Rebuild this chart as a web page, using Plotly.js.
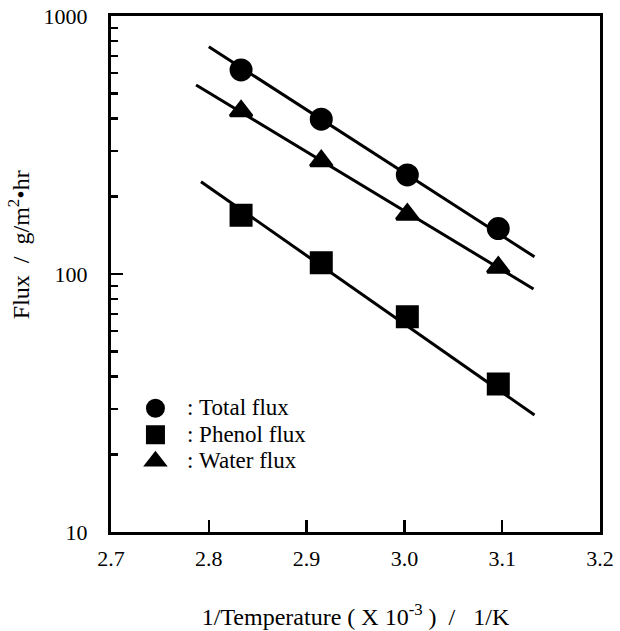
<!DOCTYPE html>
<html>
<head>
<meta charset="utf-8">
<script src="https://cdn.plot.ly/plotly-3.0.1.min.js"></script>
<style>html,body{margin:0;padding:0;background:#fff;}#chart{width:620px;height:631px;}</style>
</head>
<body>
<div id="chart"></div>
<script>
// 1/T (x 10^-3, 1/K)
const invTemp = [2.833, 2.915, 3.003, 3.096];
// Flux values (g/m2 hr)
const totalFlux  = [618, 398, 242, 150];
const phenolFlux = [169, 110.6, 68.3, 37.5];
const waterFlux  = [428, 274, 170, 106];
// fitted lines (end points)
const totalLineX  = [2.800, 3.133];
const totalLineY  = [760, 116.6];
const waterLineX  = [2.787, 3.132];
const waterLineY  = [540, 87.5];
const phenolLineX = [2.792, 3.133];
const phenolLineY = [228, 28.4];
// ticks
const xTickVals = [2.7, 2.8, 2.9, 3.0, 3.1, 3.2];
const xTickText = ["2.7", "2.8", "2.9", "3.0", "3.1", "3.2"];
const yTickVals = [10, 100, 1000];
const yTickText = ["10", "100", "1000"];
const yMinorVals = [20, 30, 40, 50, 60, 70, 80, 90, 200, 300, 400, 500, 600, 700, 800, 900];
const seriesLabels = ["Total flux", "Phenol flux", "Water flux"];
const xTitle = "1/Temperature ( X 10<sup>-3</sup> )\u00a0\u00a0/\u00a0\u00a0\u00a01/K";
const yTitle = "Flux\u00a0\u00a0/\u00a0\u00a0g/m<sup>2</sup>\u2022hr";

const FONT = "'Liberation Serif', 'Times New Roman', Times, serif";
const lineStyle = {color: "#000", width: 3};
const legendName = (s) => '<span style="font-size:23px">\u00a0\u00a0:\u00a0' + s + '</span>';

const traces = [
  {x: totalLineX, y: totalLineY, mode: "lines", line: lineStyle, showlegend: false, hoverinfo: "skip"},
  {x: waterLineX, y: waterLineY, mode: "lines", line: lineStyle, showlegend: false, hoverinfo: "skip"},
  {x: phenolLineX, y: phenolLineY, mode: "lines", line: lineStyle, showlegend: false, hoverinfo: "skip"},
  {x: invTemp, y: totalFlux, mode: "markers", name: legendName(seriesLabels[0]), legendgroup: "a",
   marker: {symbol: "circle", size: 20, color: "#000", line: {color: "#000", width: 3}}},
  {x: invTemp, y: phenolFlux, mode: "markers", name: legendName(seriesLabels[1]), legendgroup: "b",
   marker: {symbol: "square", size: 20, color: "#000", line: {color: "#000", width: 3}}},
  {x: invTemp, y: waterFlux, mode: "markers", name: legendName(seriesLabels[2]), legendgroup: "c",
   marker: {symbol: "triangle-up", size: 19, color: "#000", line: {color: "#000", width: 3}}}
];

const layout = {
  width: 620, height: 631,
  margin: {l: 111, r: 20, t: 16, b: 99},
  paper_bgcolor: "#fff", plot_bgcolor: "#fff",
  font: {family: FONT, color: "#000", size: 22},
  showlegend: true,
  legend: {
    x: 0.05, y: 0.275, xanchor: "left", yanchor: "top",
    font: {family: FONT, size: 18, color: "#000"},
    bgcolor: "rgba(0,0,0,0)", borderwidth: 0,
    traceorder: "grouped", tracegroupgap: 0, itemwidth: 30
  },
  xaxis: {
    range: [2.7, 3.2], tickmode: "array", tickvals: xTickVals, ticktext: xTickText,
    ticks: "inside", ticklen: 12, tickwidth: 2.5, tickcolor: "#000",
    showline: true, linewidth: 3, linecolor: "#000", mirror: true,
    showgrid: false, zeroline: false,
    tickfont: {family: FONT, size: 22, color: "#000"},
    ticklabelstandoff: 5,
    title: {text: xTitle, font: {family: FONT, size: 24, color: "#000"}, standoff: 38}
  },
  yaxis: {
    type: "log", range: [1, 3], tickmode: "array", tickvals: yTickVals, ticktext: yTickText,
    ticks: "inside", ticklen: 12, tickwidth: 2.5, tickcolor: "#000",
    minor: {tickmode: "array", tickvals: yMinorVals, ticks: "inside", ticklen: 7, tickwidth: 2.5, tickcolor: "#000", showgrid: false},
    showline: true, linewidth: 3, linecolor: "#000", mirror: true,
    showgrid: false, zeroline: false,
    tickfont: {family: FONT, size: 22, color: "#000"},
    ticklabelstandoff: 16
  },
  annotations: [{
    text: yTitle, xref: "paper", yref: "paper", x: -0.188, y: 0.556,
    xanchor: "center", yanchor: "middle", textangle: -90, showarrow: false,
    font: {family: FONT, size: 24, color: "#000"}
  }]
};

Plotly.newPlot("chart", traces, layout, {staticPlot: true, displayModeBar: false});
</script>
</body>
</html>
